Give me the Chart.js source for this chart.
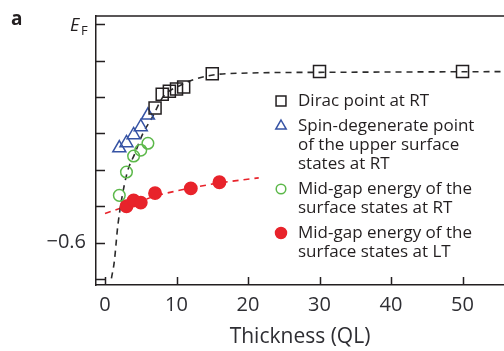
<!DOCTYPE html>
<html>
<head>
<meta charset="utf-8">
<script src="https://cdn.jsdelivr.net/npm/chart.js@4/dist/chart.umd.min.js"></script>
<style>
    html, body { margin: 0; padding: 0; background: #fff; }
    #wrap { width: 504px; height: 351px; }
</style>
</head>
<body>
<div id="wrap"><canvas id="chart" width="504" height="351"></canvas></div>
<script>
// Dirac point at RT
const diracX = [7, 8, 9, 10, 11, 15, 30, 50];
const diracY = [-0.415, -0.396, -0.392, -0.389, -0.386, -0.368, -0.365, -0.365];

// Spin-degenerate point of the upper surface states at RT
const spinX = [2, 3, 4, 5, 6];
const spinY = [-0.470, -0.463, -0.452, -0.441, -0.425];

// Mid-gap energy of the surface states at RT
const midRtX = [2, 3, 4, 5, 6];
const midRtY = [-0.535, -0.503, -0.481, -0.473, -0.4635];

// Mid-gap energy of the surface states at LT
const midLtX = [3, 4, 5, 7, 12, 16];
const midLtY = [-0.550, -0.542, -0.545, -0.532, -0.5255, -0.517];

// dashed guide curves
const blackFitX = [0.9, 1.3, 1.8, 3, 4.2, 5.3, 6.6, 8.1, 10.5, 14.3, 20, 30, 56];
const blackFitY = [-0.649, -0.626, -0.576, -0.5075, -0.477, -0.450, -0.428, -0.400, -0.384, -0.371, -0.367, -0.366, -0.365];
const redFitX = [0, 3, 5, 7, 10, 13, 16, 21.5];
const redFitY = [-0.560, -0.550, -0.543, -0.536, -0.529, -0.523, -0.518, -0.511];

const legendLabels = [
    ['Dirac point at RT'],
    ['Spin-degenerate point', 'of the upper surface', 'states at RT'],
    ['Mid-gap energy of the', 'surface states at RT'],
    ['Mid-gap energy of the', 'surface states at LT']
];

const xTitle = 'Thickness (QL)';
const xMin = -1.26, xMax = 55.8, xStep = 10;
const yMin = -0.6582, yMax = -0.2886, yStep = 0.05;

const ink = '#231f20';
const blue = '#3653a4';
const green = '#5cb84a';
const red = '#e8232b';
const font = "'Open Sans', sans-serif";

const toPoints = (xs, ys) => xs.map((x, i) => ({x: x, y: ys[i]}));

// Маркеры рисуем сами, чтобы одинаково выглядели в легенде
const drawMarker = (ctx, style, x, y, r, stroke, fill) => {
    ctx.beginPath();
    if (style === 'rect') {
        const s = r / Math.SQRT2;
        ctx.rect(x - s, y - s, 2 * s, 2 * s);
    } else if (style === 'triangle') {
        ctx.moveTo(x, y - r);
        ctx.lineTo(x + r * 0.866, y + r * 0.5);
        ctx.lineTo(x - r * 0.866, y + r * 0.5);
        ctx.closePath();
    } else {
        ctx.arc(x, y, r, 0, Math.PI * 2);
    }
    if (fill) {
        ctx.fillStyle = fill;
        ctx.fill();
    }
    ctx.strokeStyle = stroke;
    ctx.stroke();
};

// Тики внутрь и верхняя рамка
const framePlugin = {
    id: 'framePlugin',
    afterDatasetsDraw(chart) {
        const {ctx, chartArea, scales} = chart;
        ctx.save();
        ctx.strokeStyle = ink;
        ctx.lineWidth = 1.5;
        ctx.beginPath();
        scales.x.ticks.forEach((t, i) => {
            const px = Math.round(scales.x.getPixelForTick(i)) + 0.5;
            ctx.moveTo(px, chartArea.bottom);
            ctx.lineTo(px, chartArea.bottom - 8);
        });
        scales.y.ticks.forEach((t, i) => {
            const py = Math.round(scales.y.getPixelForTick(i)) + 0.5;
            ctx.moveTo(chartArea.left, py);
            ctx.lineTo(chartArea.left + 9, py);
        });
        ctx.moveTo(chartArea.left, chartArea.top);
        ctx.lineTo(chartArea.right, chartArea.top);
        ctx.stroke();
        ctx.restore();
    }
};

// Легенда с многострочными подписями и подписи "a", "E_F"
const legendPlugin = {
    id: 'legendPlugin',
    afterDraw(chart) {
        const {ctx} = chart;
        const starts = [101, 126, 189, 233];
        const lineH = 19;
        ctx.save();
        ctx.font = '17px ' + font;
        ctx.textBaseline = 'middle';
        ctx.textAlign = 'left';
        chart.data.datasets.filter(d => d.legendText).forEach((d, i) => {
            const y0 = starts[i];
            ctx.lineWidth = 1.5;
            drawMarker(ctx, d.pointStyle, 281, y0, d.legendRadius, d.borderColor,
                d.fillMarker ? d.backgroundColor : null);
            ctx.fillStyle = ink;
            d.legendText.forEach((line, j) => ctx.fillText(line, 298, y0 + j * lineH));
        });

        ctx.font = 'bold 19px ' + font;
        ctx.textBaseline = 'alphabetic';
        ctx.fillText('a', 11, 25);
        ctx.font = 'italic 18px ' + font;
        ctx.fillText('E', 70, 31);
        ctx.font = '13px ' + font;
        ctx.fillText('F', 81, 35);
        ctx.restore();
    }
};

const scatterSet = (label, data, style, radius, color, fill, legendRadius) => ({
    label: label.join(' '),
    legendText: label,
    data: data,
    showLine: false,
    pointStyle: style,
    pointRadius: radius,
    pointHoverRadius: radius,
    pointBorderWidth: 1.5,
    borderColor: color,
    pointBorderColor: color,
    backgroundColor: fill ? color : 'rgba(0,0,0,0)',
    pointBackgroundColor: fill ? color : 'rgba(0,0,0,0)',
    fillMarker: fill,
    legendRadius: legendRadius
});

const fitSet = (data, color) => ({
    label: '',
    data: data,
    showLine: true,
    borderColor: color,
    borderWidth: 1.6,
    borderDash: [6, 5],
    pointRadius: 0,
    cubicInterpolationMode: 'monotone',
    fill: false
});

new Chart(document.getElementById('chart'), {
    type: 'scatter',
    data: {
        datasets: [
            scatterSet(legendLabels[0], toPoints(diracX, diracY), 'rect', 8.5, ink, false, 7),
            scatterSet(legendLabels[1], toPoints(spinX, spinY), 'triangle', 7.5, blue, false, 6),
            scatterSet(legendLabels[2], toPoints(midRtX, midRtY), 'circle', 5.8, green, false, 4.8),
            scatterSet(legendLabels[3], toPoints(midLtX, midLtY), 'circle', 6.2, red, true, 5.5),
            fitSet(toPoints(blackFitX, blackFitY), '#2b2b2b'),
            fitSet(toPoints(redFitX, redFitY), red)
        ]
    },
    options: {
        responsive: false,
        animation: false,
        layout: {
            autoPadding: false,
            padding: {top: 16, right: 0, left: 0, bottom: 0}
        },
        plugins: {
            legend: {display: false},
            tooltip: {enabled: false}
        },
        scales: {
            x: {
                type: 'linear',
                min: xMin,
                max: xMax,
                afterFit(scale) {
                    scale.height = 66;
                    scale.paddingLeft = 0;
                    scale.paddingRight = 0;
                },
                ticks: {
                    stepSize: xStep,
                    includeBounds: false,
                    padding: 8,
                    color: '#2e2e33',
                    font: {family: font, size: 20},
                    maxRotation: 0
                },
                grid: {display: true, drawOnChartArea: false, drawTicks: false},
                border: {display: true, color: ink, width: 1.5},
                title: {
                    display: true,
                    text: xTitle,
                    color: '#2e2e33',
                    font: {family: font, size: 21},
                    padding: {top: 0, bottom: 1}
                }
            },
            y: {
                type: 'linear',
                min: yMin,
                max: yMax,
                afterFit(scale) {
                    scale.width = 96;
                    scale.paddingTop = 0;
                    scale.paddingBottom = 0;
                },
                ticks: {
                    stepSize: yStep,
                    includeBounds: false,
                    padding: 10,
                    color: '#2e2e33',
                    font: {family: font, size: 20},
                    callback: v => Math.abs(v + 0.6) < 1e-6 ? '\u22120.6' : ''
                },
                grid: {display: true, drawOnChartArea: false, drawTicks: false},
                border: {display: true, color: ink, width: 1.5}
            }
        }
    },
    plugins: [framePlugin, legendPlugin]
});
</script>
</body>
</html>
